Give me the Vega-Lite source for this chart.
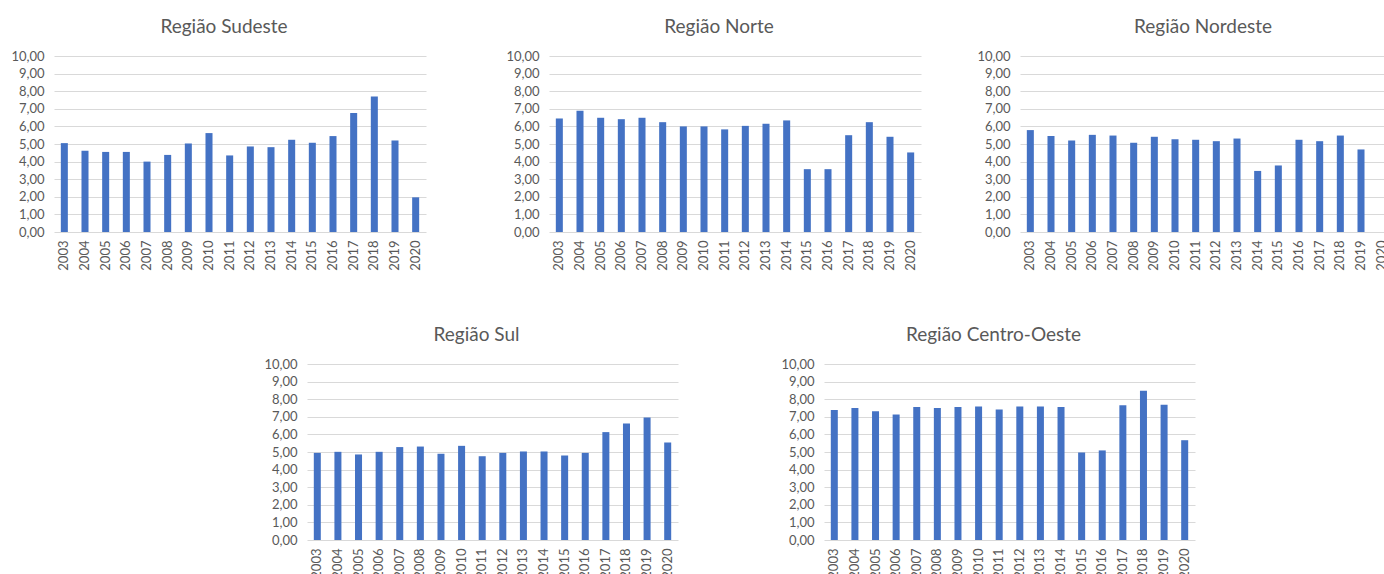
{
  "$schema": "https://vega.github.io/schema/vega-lite/v6.json",
  "padding": {"left": 10, "top": 18, "right": 0, "bottom": 0},
  "background": "white",
  "data": {
    "values": [
      {"regiao": "Sudeste", "ano": 2003, "valor": 5.05},
      {"regiao": "Sudeste", "ano": 2004, "valor": 4.61},
      {"regiao": "Sudeste", "ano": 2005, "valor": 4.55},
      {"regiao": "Sudeste", "ano": 2006, "valor": 4.55},
      {"regiao": "Sudeste", "ano": 2007, "valor": 4.00},
      {"regiao": "Sudeste", "ano": 2008, "valor": 4.38},
      {"regiao": "Sudeste", "ano": 2009, "valor": 5.03},
      {"regiao": "Sudeste", "ano": 2010, "valor": 5.62},
      {"regiao": "Sudeste", "ano": 2011, "valor": 4.35},
      {"regiao": "Sudeste", "ano": 2012, "valor": 4.86},
      {"regiao": "Sudeste", "ano": 2013, "valor": 4.82},
      {"regiao": "Sudeste", "ano": 2014, "valor": 5.24},
      {"regiao": "Sudeste", "ano": 2015, "valor": 5.07},
      {"regiao": "Sudeste", "ano": 2016, "valor": 5.45},
      {"regiao": "Sudeste", "ano": 2017, "valor": 6.76},
      {"regiao": "Sudeste", "ano": 2018, "valor": 7.70},
      {"regiao": "Sudeste", "ano": 2019, "valor": 5.20},
      {"regiao": "Sudeste", "ano": 2020, "valor": 1.97},
      {"regiao": "Norte", "ano": 2003, "valor": 6.45},
      {"regiao": "Norte", "ano": 2004, "valor": 6.89},
      {"regiao": "Norte", "ano": 2005, "valor": 6.49},
      {"regiao": "Norte", "ano": 2006, "valor": 6.41},
      {"regiao": "Norte", "ano": 2007, "valor": 6.49},
      {"regiao": "Norte", "ano": 2008, "valor": 6.24},
      {"regiao": "Norte", "ano": 2009, "valor": 6.00},
      {"regiao": "Norte", "ano": 2010, "valor": 6.00},
      {"regiao": "Norte", "ano": 2011, "valor": 5.83},
      {"regiao": "Norte", "ano": 2012, "valor": 6.03},
      {"regiao": "Norte", "ano": 2013, "valor": 6.15},
      {"regiao": "Norte", "ano": 2014, "valor": 6.34},
      {"regiao": "Norte", "ano": 2015, "valor": 3.57},
      {"regiao": "Norte", "ano": 2016, "valor": 3.57},
      {"regiao": "Norte", "ano": 2017, "valor": 5.50},
      {"regiao": "Norte", "ano": 2018, "valor": 6.24},
      {"regiao": "Norte", "ano": 2019, "valor": 5.41},
      {"regiao": "Norte", "ano": 2020, "valor": 4.52},
      {"regiao": "Nordeste", "ano": 2003, "valor": 5.79},
      {"regiao": "Nordeste", "ano": 2004, "valor": 5.45},
      {"regiao": "Nordeste", "ano": 2005, "valor": 5.20},
      {"regiao": "Nordeste", "ano": 2006, "valor": 5.52},
      {"regiao": "Nordeste", "ano": 2007, "valor": 5.48},
      {"regiao": "Nordeste", "ano": 2008, "valor": 5.07},
      {"regiao": "Nordeste", "ano": 2009, "valor": 5.41},
      {"regiao": "Nordeste", "ano": 2010, "valor": 5.27},
      {"regiao": "Nordeste", "ano": 2011, "valor": 5.24},
      {"regiao": "Nordeste", "ano": 2012, "valor": 5.16},
      {"regiao": "Nordeste", "ano": 2013, "valor": 5.31},
      {"regiao": "Nordeste", "ano": 2014, "valor": 3.47},
      {"regiao": "Nordeste", "ano": 2015, "valor": 3.78},
      {"regiao": "Nordeste", "ano": 2016, "valor": 5.24},
      {"regiao": "Nordeste", "ano": 2017, "valor": 5.16},
      {"regiao": "Nordeste", "ano": 2018, "valor": 5.48},
      {"regiao": "Nordeste", "ano": 2019, "valor": 4.69},
      {"regiao": "Nordeste", "ano": 2020, "valor": null},
      {"regiao": "Sul", "ano": 2003, "valor": 4.95},
      {"regiao": "Sul", "ano": 2004, "valor": 5.01},
      {"regiao": "Sul", "ano": 2005, "valor": 4.86},
      {"regiao": "Sul", "ano": 2006, "valor": 5.01},
      {"regiao": "Sul", "ano": 2007, "valor": 5.28},
      {"regiao": "Sul", "ano": 2008, "valor": 5.31},
      {"regiao": "Sul", "ano": 2009, "valor": 4.90},
      {"regiao": "Sul", "ano": 2010, "valor": 5.35},
      {"regiao": "Sul", "ano": 2011, "valor": 4.76},
      {"regiao": "Sul", "ano": 2012, "valor": 4.95},
      {"regiao": "Sul", "ano": 2013, "valor": 5.03},
      {"regiao": "Sul", "ano": 2014, "valor": 5.03},
      {"regiao": "Sul", "ano": 2015, "valor": 4.80},
      {"regiao": "Sul", "ano": 2016, "valor": 4.95},
      {"regiao": "Sul", "ano": 2017, "valor": 6.13},
      {"regiao": "Sul", "ano": 2018, "valor": 6.62},
      {"regiao": "Sul", "ano": 2019, "valor": 6.96},
      {"regiao": "Sul", "ano": 2020, "valor": 5.54},
      {"regiao": "Centro-Oeste", "ano": 2003, "valor": 7.38},
      {"regiao": "Centro-Oeste", "ano": 2004, "valor": 7.50},
      {"regiao": "Centro-Oeste", "ano": 2005, "valor": 7.31},
      {"regiao": "Centro-Oeste", "ano": 2006, "valor": 7.13},
      {"regiao": "Centro-Oeste", "ano": 2007, "valor": 7.55},
      {"regiao": "Centro-Oeste", "ano": 2008, "valor": 7.50},
      {"regiao": "Centro-Oeste", "ano": 2009, "valor": 7.55},
      {"regiao": "Centro-Oeste", "ano": 2010, "valor": 7.59},
      {"regiao": "Centro-Oeste", "ano": 2011, "valor": 7.42},
      {"regiao": "Centro-Oeste", "ano": 2012, "valor": 7.59},
      {"regiao": "Centro-Oeste", "ano": 2013, "valor": 7.59},
      {"regiao": "Centro-Oeste", "ano": 2014, "valor": 7.55},
      {"regiao": "Centro-Oeste", "ano": 2015, "valor": 4.97},
      {"regiao": "Centro-Oeste", "ano": 2016, "valor": 5.09},
      {"regiao": "Centro-Oeste", "ano": 2017, "valor": 7.65},
      {"regiao": "Centro-Oeste", "ano": 2018, "valor": 8.48},
      {"regiao": "Centro-Oeste", "ano": 2019, "valor": 7.69},
      {"regiao": "Centro-Oeste", "ano": 2020, "valor": 5.67}
    ]
  },
  "bounds": "flush",
  "spacing": 308,
  "vconcat": [
    {
      "bounds": "flush",
      "spacing": 123,
      "hconcat": [
        {
          "title": {"text": "Região Sudeste", "dx": -16},
          "width": 372,
          "height": 176,
          "transform": [{"filter": "datum.regiao === 'Sudeste'"}],
          "mark": "bar",
          "encoding": {
            "x": {"field": "ano", "type": "ordinal", "title": null, "scale": {"domain": [2003, 2004, 2005, 2006, 2007, 2008, 2009, 2010, 2011, 2012, 2013, 2014, 2015, 2016, 2017, 2018, 2019, 2020], "paddingInner": 0.66, "paddingOuter": 0.33}},
            "y": {"field": "valor", "type": "quantitative", "title": null, "scale": {"domain": [0, 10], "nice": false}}
          }
        },
        {
          "bounds": "flush",
          "spacing": 99,
          "hconcat": [
            {
              "title": {"text": "Região Norte", "dx": -16},
              "width": 372,
              "height": 176,
              "transform": [{"filter": "datum.regiao === 'Norte'"}],
              "mark": "bar",
              "encoding": {
                "x": {"field": "ano", "type": "ordinal", "title": null, "scale": {"domain": [2003, 2004, 2005, 2006, 2007, 2008, 2009, 2010, 2011, 2012, 2013, 2014, 2015, 2016, 2017, 2018, 2019, 2020], "paddingInner": 0.66, "paddingOuter": 0.33}},
                "y": {"field": "valor", "type": "quantitative", "title": null, "scale": {"domain": [0, 10], "nice": false}}
              }
            },
            {
              "title": {"text": "Região Nordeste", "dx": -3},
              "width": 372,
              "height": 176,
              "transform": [{"filter": "datum.regiao === 'Nordeste'"}],
              "mark": "bar",
              "encoding": {
                "x": {"field": "ano", "type": "ordinal", "title": null, "scale": {"domain": [2003, 2004, 2005, 2006, 2007, 2008, 2009, 2010, 2011, 2012, 2013, 2014, 2015, 2016, 2017, 2018, 2019, 2020], "paddingInner": 0.66, "paddingOuter": 0.33}},
                "y": {"field": "valor", "type": "quantitative", "title": null, "scale": {"domain": [0, 10], "nice": false}}
              }
            }
          ]
        }
      ]
    },
    {
      "bounds": "flush",
      "spacing": 0,
      "hconcat": [
        {
          "width": 253,
          "height": 176,
          "data": {"values": []},
          "mark": "point",
          "encoding": {}
        },
        {
          "bounds": "flush",
          "spacing": 146,
          "hconcat": [
            {
              "title": {"text": "Região Sul", "dx": -16},
              "width": 371,
              "height": 176,
              "transform": [{"filter": "datum.regiao === 'Sul'"}],
              "mark": "bar",
              "encoding": {
                "x": {"field": "ano", "type": "ordinal", "title": null, "scale": {"domain": [2003, 2004, 2005, 2006, 2007, 2008, 2009, 2010, 2011, 2012, 2013, 2014, 2015, 2016, 2017, 2018, 2019, 2020], "paddingInner": 0.66, "paddingOuter": 0.33}},
                "y": {"field": "valor", "type": "quantitative", "title": null, "scale": {"domain": [0, 10], "nice": false}}
              }
            },
            {
              "title": {"text": "Região Centro-Oeste", "dx": -16},
              "width": 371,
              "height": 176,
              "transform": [{"filter": "datum.regiao === 'Centro-Oeste'"}],
              "mark": "bar",
              "encoding": {
                "x": {"field": "ano", "type": "ordinal", "title": null, "scale": {"domain": [2003, 2004, 2005, 2006, 2007, 2008, 2009, 2010, 2011, 2012, 2013, 2014, 2015, 2016, 2017, 2018, 2019, 2020], "paddingInner": 0.66, "paddingOuter": 0.33}},
                "y": {"field": "valor", "type": "quantitative", "title": null, "scale": {"domain": [0, 10], "nice": false}}
              }
            }
          ]
        }
      ]
    }
  ],
  "config": {
    "font": "Lato",
    "view": {"stroke": null},
    "locale": {"number": {"decimal": ",", "thousands": ".", "grouping": [3], "currency": ["R$ ", ""]}},
    "bar": {"color": "#4472C4"},
    "title": {"font": "Lato", "fontSize": 19, "fontWeight": "normal", "color": "#595959", "anchor": "middle", "offset": 13},
    "axisY": {"domain": false, "ticks": false, "grid": true, "gridColor": "#D9D9D9", "gridWidth": 1, "labelFont": "Lato", "labelFontSize": 13, "labelColor": "#595959", "labelPadding": 10, "format": ".2f", "tickCount": 10},
    "axisX": {"domain": false, "ticks": false, "grid": false, "labelAngle": 270, "labelFont": "Lato", "labelFontSize": 13, "labelColor": "#595959", "labelPadding": 8}
  }
}
